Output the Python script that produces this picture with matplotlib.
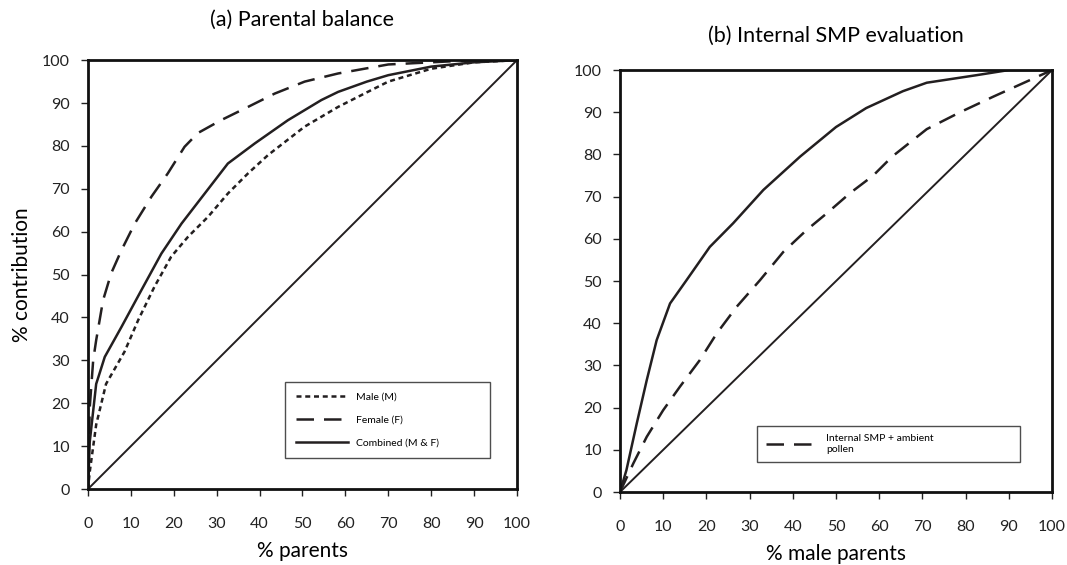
import matplotlib
matplotlib.use("Agg")
from matplotlib import pyplot as plt

plt.rcParams['font.family'] = ['Lato', 'DejaVu Sans']

# (a) parental balance curves
male_x = [0, 0.4, 1.9, 4.2, 8.5, 11.7, 15.5, 19.4, 23.3, 28, 32.6, 37.3, 42, 50.5, 58.3, 65, 70, 80, 90, 100]
male_y = [0, 4, 15, 24.5, 32, 39.4, 47.2, 54.2, 58.8, 63.5, 68.9, 73.6, 77.9, 84.5, 89.1, 92.5, 95, 98, 99.5, 100]
female_x = [0, 0.4, 1.2, 1.9, 3.5, 5.4, 7.8, 10.9, 14.8, 18.6, 22.5, 25.6, 31, 37.3, 43.5, 50.5, 58.3, 70, 80, 90, 100]
female_y = [0, 19, 30, 34.7, 44, 50.3, 55.7, 61.9, 68.2, 73.6, 79.8, 83, 86, 89.1, 92.2, 95, 96.9, 99, 99.5, 100, 100]
comb_x = [0, 0.4, 1.9, 2.7, 3.9, 7.8, 12.4, 17.1, 21.8, 27.2, 32.6, 38.9, 46.6, 54.4, 58.3, 65, 70, 80, 90, 100]
comb_y = [0, 11, 24.5, 27, 30.8, 37.8, 46.3, 54.9, 61.9, 68.9, 75.9, 80.6, 86, 90.7, 92.6, 95, 96.5, 98.5, 99.5, 100]

# (b) internal SMP evaluation curves
smp_x = [0, 1.5, 3.9, 6.2, 8.5, 11.6, 15.4, 20.8, 26.2, 33.2, 41.7, 50, 57, 65.5, 71, 82.6, 90, 100]
smp_y = [0, 5.2, 16.3, 26.5, 36, 44.7, 50.2, 58.1, 63.7, 71.6, 79.5, 86.5, 91, 95, 97, 98.8, 100, 100]
amb_x = [0, 3.1, 6.2, 10, 13.9, 18.5, 22.4, 27, 32.4, 37.8, 43.2, 47.8, 53.2, 58.6, 63, 71, 78.7, 86.4, 100]
amb_y = [0, 6.8, 13.1, 19.4, 25, 31.3, 37.6, 43.9, 50.2, 56.9, 62.1, 66, 70.8, 75, 79.5, 86, 90, 93.7, 100]

diag = [0, 100]
ticks = list(range(0, 101, 10))
ink = '#231f20'

fig = plt.figure(figsize=(10.67, 5.65), dpi=100)
ax1 = fig.add_axes([0.0825, 0.1345, 0.402, 0.759])
ax2 = fig.add_axes([0.581, 0.129, 0.405, 0.747])

ax1.plot(male_x, male_y, color=ink, lw=1.8, dashes=(2, 1.5), label='Male (M)')
ax1.plot(female_x, female_y, color=ink, lw=1.8, dashes=(7, 4), label='Female (F)')
ax1.plot(comb_x, comb_y, color=ink, lw=1.8, label='Combined (M & F)')
ax1.plot(diag, diag, color=ink, lw=1.4)

ax2.plot(smp_x, smp_y, color=ink, lw=1.8)
ax2.plot(amb_x, amb_y, color=ink, lw=1.8, dashes=(7, 4), label='Internal SMP + ambient\npollen')
ax2.plot(diag, diag, color=ink, lw=1.4)

for ax in (ax1, ax2):
    ax.set_xlim(0, 100)
    ax.set_ylim(0, 100)
    ax.set_xticks(ticks)
    ax.set_yticks(ticks)
    ax.tick_params(direction='out', length=5, width=1, labelsize=11.5, colors='#222222', pad=8)
    ax.tick_params(axis='x', pad=15)
    for s in ax.spines.values():
        s.set_linewidth(2)
        s.set_color('#111111')

ax1.set_title('(a) Parental balance', fontsize=15.5, pad=25)
ax2.set_title('(b) Internal SMP evaluation', fontsize=15.5, pad=20)
ax1.set_xlabel('% parents', fontsize=15, labelpad=7)
ax1.set_ylabel('% contribution', fontsize=15, labelpad=7)
ax2.set_xlabel('% male parents', fontsize=15, labelpad=7)

leg1 = ax1.legend(loc='lower left', bbox_to_anchor=(0.448, 0.06, 0.501, 0.194), mode='expand',
                  fontsize=7.5, frameon=True, fancybox=False, handlelength=5, borderpad=1,
                  labelspacing=1.3)
leg1.get_frame().set_edgecolor('#222222')
leg1.get_frame().set_linewidth(1)

leg2 = ax2.legend(loc='lower left', bbox_to_anchor=(0.306, 0.059, 0.632, 0.123), mode='expand',
                  fontsize=7.5, frameon=True, fancybox=False, handlelength=5, borderpad=0.8)
leg2.get_frame().set_edgecolor('#222222')
leg2.get_frame().set_linewidth(1)

plt.savefig('out.png', dpi=100)
